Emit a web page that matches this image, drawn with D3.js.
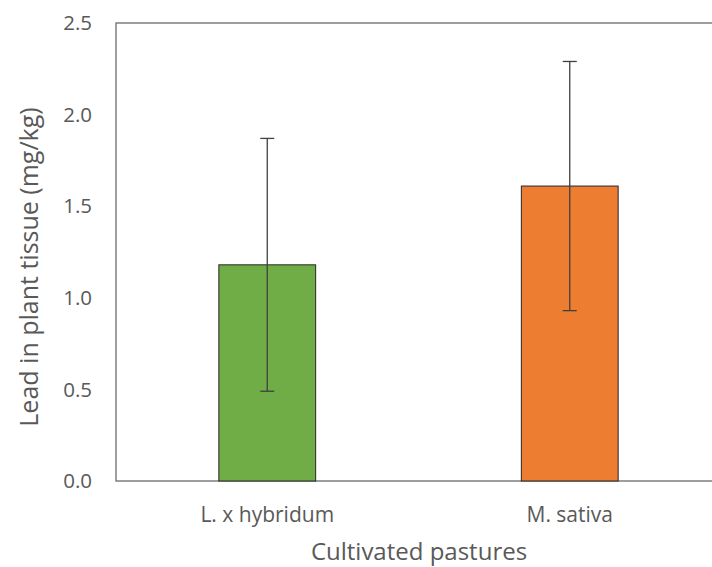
<!DOCTYPE html>
<html>
<head>
<meta charset="utf-8">
<script src="https://cdn.jsdelivr.net/npm/d3@7"></script>
<style>
  body { margin: 0; background: #fff; }
  text { font-family: "Open Sans", sans-serif; fill: #595959; }
</style>
</head>
<body>
<div id="chart"></div>
<script>
const width = 712;
const height = 567;

// data
const categories = ['L. x hybridum', 'M. sativa'];
const means = [1.18, 1.61];
const errors = [0.69, 0.68];
const colors = ['#70AD47', '#ED7D31'];
const yTicks = [0, 0.5, 1.0, 1.5, 2.0, 2.5];

const margin = { top: 23, left: 116, bottom: 86 };
const plotRight = 721;

const svg = d3.select('#chart')
  .append('svg')
  .attr('width', width)
  .attr('height', height);

const x = d3.scaleBand()
  .domain(categories)
  .range([margin.left, plotRight])
  .padding(0);

const y = d3.scaleLinear()
  .domain([0, 2.5])
  .range([height - margin.bottom, margin.top]);

const barW = x.bandwidth() * 0.32;

// frame: left, top and bottom lines
svg.append('path')
  .attr('d', `M${plotRight},${y(2.5)}H${margin.left}V${y(0)}H${plotRight}`)
  .attr('fill', 'none')
  .attr('stroke', '#7f7f7f')
  .attr('stroke-width', 1.5);

// y tick labels
svg.append('g')
  .selectAll('text')
  .data(yTicks)
  .join('text')
  .attr('x', margin.left - 24)
  .attr('y', d => y(d))
  .attr('dy', '0.35em')
  .attr('text-anchor', 'end')
  .attr('font-size', 20.5)
  .text(d => d.toFixed(1));

// bars
svg.append('g')
  .selectAll('rect')
  .data(categories)
  .join('rect')
  .attr('x', d => x(d) + x.bandwidth() / 2 - barW / 2)
  .attr('y', (d, i) => y(means[i]))
  .attr('width', barW)
  .attr('height', (d, i) => y(0) - y(means[i]))
  .attr('fill', (d, i) => colors[i])
  .attr('stroke', '#262626')
  .attr('stroke-width', 1);

// error bars
const eb = svg.append('g')
  .attr('stroke', '#404040')
  .attr('stroke-width', 1.3);

categories.forEach((c, i) => {
  const cx = x(c) + x.bandwidth() / 2;
  const hi = y(means[i] + errors[i]);
  const lo = y(means[i] - errors[i]);
  eb.append('line').attr('x1', cx).attr('x2', cx).attr('y1', hi).attr('y2', lo);
  eb.append('line').attr('x1', cx - 7).attr('x2', cx + 7).attr('y1', hi).attr('y2', hi);
  eb.append('line').attr('x1', cx - 7).attr('x2', cx + 7).attr('y1', lo).attr('y2', lo);
});

// category labels
svg.append('g')
  .selectAll('text')
  .data(categories)
  .join('text')
  .attr('x', d => x(d) + x.bandwidth() / 2)
  .attr('y', 522)
  .attr('text-anchor', 'middle')
  .attr('font-size', 21)
  .text(d => d);

// axis titles
svg.append('text')
  .attr('x', 419)
  .attr('y', 560)
  .attr('text-anchor', 'middle')
  .attr('font-size', 24)
  .text('Cultivated pastures');

svg.append('text')
  .attr('transform', `translate(38,267) rotate(-90)`)
  .attr('text-anchor', 'middle')
  .attr('font-size', 25)
  .text('Lead in plant tissue (mg/kg)');
</script>
</body>
</html>
